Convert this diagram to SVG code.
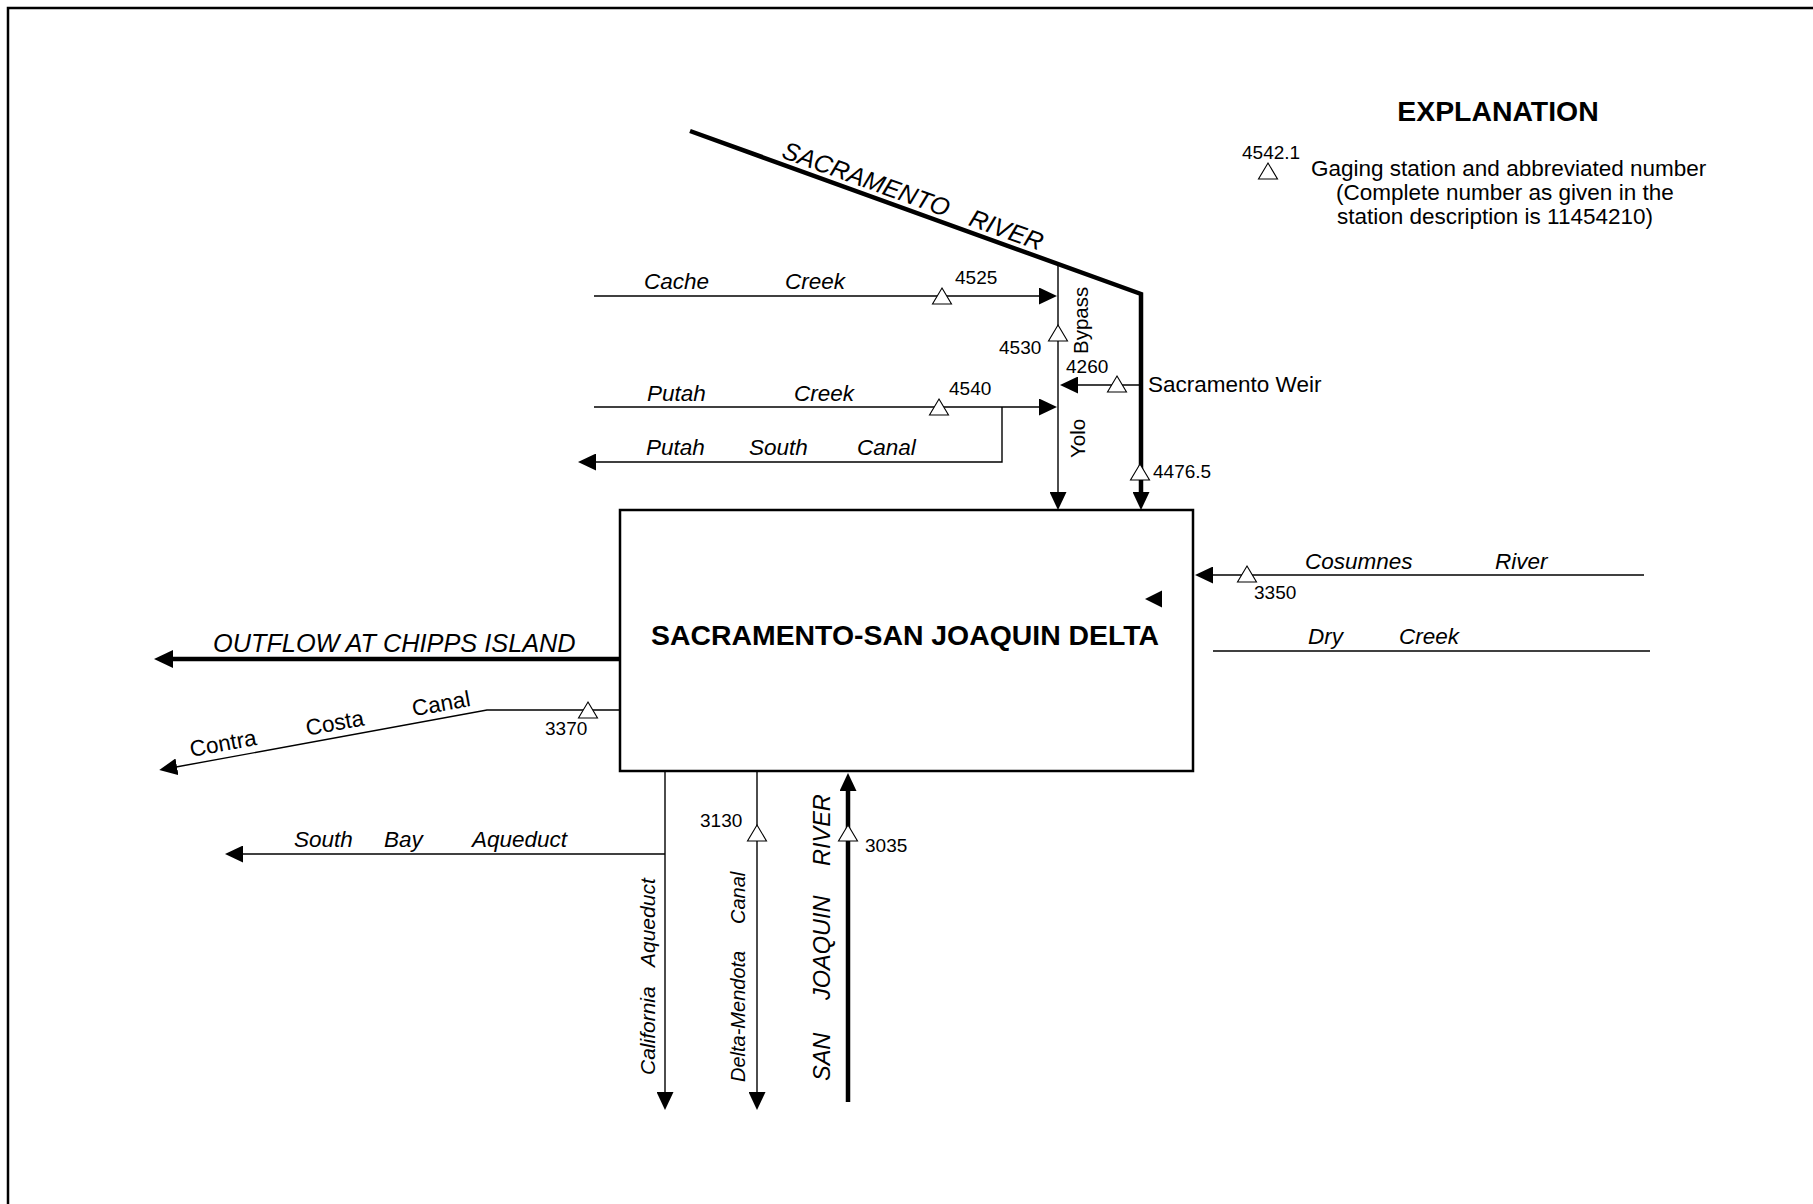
<svg xmlns="http://www.w3.org/2000/svg" width="1813" height="1204" viewBox="0 0 1813 1204">
<style>
text{font-family:"Liberation Sans",Arial,sans-serif;fill:#000}
.it{font-style:italic;font-size:22.5px}
.rg{font-size:22.5px}
.num{font-size:19px}
.big{font-weight:bold;font-size:28.4px}
.thin{fill:none;stroke:#000;stroke-width:1.4}
.thick{fill:none;stroke:#000;stroke-width:4.5}
.gage{fill:#fff;stroke:#000;stroke-width:1.1}
</style>
<defs>
<marker id="ah" markerUnits="userSpaceOnUse" viewBox="0 0 18 17" refX="1" refY="8.5" markerWidth="18" markerHeight="17" orient="auto">
<path d="M0,0 L18,8.5 L0,17 Z" fill="#000"/>
</marker>
<marker id="ahb" markerUnits="userSpaceOnUse" viewBox="0 0 19 18" refX="1" refY="9" markerWidth="19" markerHeight="18" orient="auto">
<path d="M0,0 L19,9 L0,18 Z" fill="#000"/>
</marker>
<path id="tri" class="gage" d="M0,-8 L9.5,8 L-9.5,8 Z"/>
</defs>
<rect width="1813" height="1204" fill="#fff"/>
<path d="M8,1204 V8 H1813" fill="none" stroke="#000" stroke-width="2.5"/>

<g id="connectors">
<path id="sacramento-river" class="thick" d="M690,131 L1141,294 V493" marker-end="url(#ah)"/>
<path id="yolo-bypass" class="thin" d="M1058,265 V493" marker-end="url(#ah)"/>
<path id="cache-creek" class="thin" d="M594,296 H1040" marker-end="url(#ah)"/>
<path id="putah-creek" class="thin" d="M594,407 H1040" marker-end="url(#ah)"/>
<path id="putah-south-canal" class="thin" d="M1002,407 V462 H595" marker-end="url(#ah)"/>
<path id="sacramento-weir" class="thin" d="M1141,385 H1077" marker-end="url(#ah)"/>
<path id="cosumnes-river" class="thin" d="M1644,575 H1212" marker-end="url(#ah)"/>
<path id="dry-creek" class="thin" d="M1213,651 H1650"/>
<path id="outflow" class="thick" d="M620,659 H172" marker-end="url(#ahb)"/>
<path id="contra-costa-canal" class="thin" d="M620,710 H487 L176,767" marker-end="url(#ah)"/>
<path id="south-bay-aqueduct" class="thin" d="M665,854 H242" marker-end="url(#ah)"/>
<path id="california-aqueduct" class="thin" d="M665,771 V1093" marker-end="url(#ah)"/>
<path id="delta-mendota-canal" class="thin" d="M757,771 V1093" marker-end="url(#ah)"/>
<path id="san-joaquin-river" class="thick" d="M848,1102 V790" marker-end="url(#ah)"/>
</g>

<g id="delta">
<rect x="620" y="510" width="573" height="261" fill="none" stroke="#000" stroke-width="2.5"/>
<text class="big" x="905" y="645" text-anchor="middle">SACRAMENTO-SAN JOAQUIN DELTA</text>
<path d="M1145,599 L1162,590.5 L1162,607.5 Z" fill="#000"/>
</g>

<g id="gages">
<use href="#tri" x="942" y="296"/>
<use href="#tri" x="939" y="407"/>
<use href="#tri" x="1058" y="333"/>
<use href="#tri" x="1117" y="384"/>
<use href="#tri" x="1140" y="472"/>
<use href="#tri" x="1247" y="574"/>
<use href="#tri" x="588" y="710"/>
<use href="#tri" x="757" y="833"/>
<use href="#tri" x="848" y="833"/>
</g>

<g id="labels">
<text class="it" transform="translate(690,131) rotate(19.87)" y="-6" style="font-size:25px"><tspan x="94">SACRAMENTO</tspan><tspan x="293">RIVER</tspan></text>
<text class="it" y="289"><tspan x="644">Cache</tspan><tspan x="785">Creek</tspan></text>
<text class="num" x="955" y="284">4525</text>
<text class="num" x="999" y="354">4530</text>
<text class="num" x="1066" y="373">4260</text>
<text class="rg" x="1148" y="392">Sacramento Weir</text>
<text class="it" y="401"><tspan x="647">Putah</tspan><tspan x="794">Creek</tspan></text>
<text class="num" x="949" y="395">4540</text>
<text class="it" y="455"><tspan x="646">Putah</tspan><tspan x="749">South</tspan><tspan x="857">Canal</tspan></text>
<text class="num" x="1153" y="478">4476.5</text>
<text class="rg" transform="translate(1088,354) rotate(-90)" style="font-size:20.5px">Bypass</text>
<text class="rg" transform="translate(1085,458) rotate(-90)" style="font-size:20.5px">Yolo</text>
<text class="it" y="569"><tspan x="1305">Cosumnes</tspan><tspan x="1495">River</tspan></text>
<text class="num" x="1254" y="599">3350</text>
<text class="it" y="644"><tspan x="1308">Dry</tspan><tspan x="1399">Creek</tspan></text>
<text class="it" x="213" y="652" style="font-size:25.3px">OUTFLOW AT CHIPPS ISLAND</text>
<text class="rg" transform="translate(159,770) rotate(-10.37)" y="-7"><tspan x="34">Contra</tspan><tspan x="152">Costa</tspan><tspan x="260">Canal</tspan></text>
<text class="num" x="545" y="735">3370</text>
<text class="it" y="847"><tspan x="294">South</tspan><tspan x="384">Bay</tspan><tspan x="472">Aqueduct</tspan></text>
<text class="it" transform="translate(655,1075) rotate(-90)" style="font-size:21px"><tspan x="0">California</tspan><tspan x="108">Aqueduct</tspan></text>
<text class="num" x="700" y="827">3130</text>
<text class="it" transform="translate(745,1082) rotate(-90)" style="font-size:20px"><tspan x="0">Delta-Mendota</tspan><tspan x="158">Canal</tspan></text>
<text class="it" transform="translate(830,1081) rotate(-90)" style="font-size:23.5px"><tspan x="0">SAN</tspan><tspan x="81">JOAQUIN</tspan><tspan x="215">RIVER</tspan></text>
<text class="num" x="865" y="852">3035</text>
</g>

<g id="explanation">
<text class="big" x="1498" y="121" text-anchor="middle">EXPLANATION</text>
<text class="num" x="1242" y="159">4542.1</text>
<use href="#tri" x="1268" y="171"/>
<text class="rg" x="1311" y="176">Gaging station and abbreviated number</text>
<text class="rg" x="1336" y="200">(Complete number as given in the</text>
<text class="rg" x="1337" y="224">station description is 11454210)</text>
</g>
</svg>
